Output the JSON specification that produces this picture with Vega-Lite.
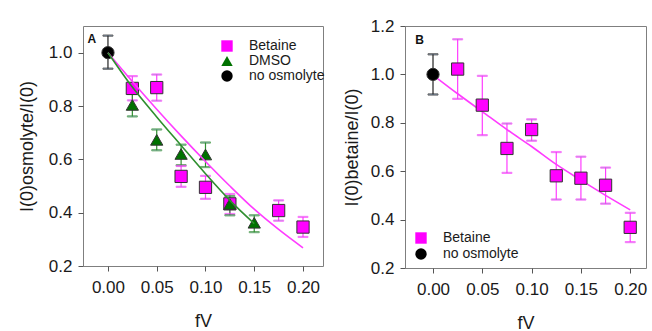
{
  "$schema": "https://vega.github.io/schema/vega-lite/v6.json",
  "background": "white",
  "padding": {"left": 17, "top": 16, "right": 0, "bottom": 0},
  "bounds": "flush",
  "spacing": 82,
  "config": {
    "font": "Liberation Sans",
    "view": {"stroke": "#7f7f7f", "strokeWidth": 1},
    "axis": {
      "domain": false, "grid": false,
      "tickColor": "#555", "tickSize": 5, "labelPadding": 6,
      "labelFont": "Liberation Sans", "labelFontSize": 17, "labelColor": "#1a1a1a",
      "titleFont": "Liberation Sans", "titleFontSize": 18, "titleFontWeight": "normal", "titleColor": "#1a1a1a",
      "labelFlush": false, "labelOverlap": false
    },
    "legend": {
      "labelFont": "Liberation Sans", "labelFontSize": 14, "labelColor": "#1a1a1a",
      "symbolStrokeColor": "#333", "symbolStrokeWidth": 1, "symbolSize": 130,
      "rowPadding": 0, "labelOffset": 15, "padding": 0
    }
  },
  "datasets": {
    "ptsA": [
      {"x": 0.025, "y": 0.866, "lo": 0.821, "hi": 0.912, "s": "Betaine"},
      {"x": 0.05, "y": 0.869, "lo": 0.82, "hi": 0.918, "s": "Betaine"},
      {"x": 0.075, "y": 0.536, "lo": 0.497, "hi": 0.575, "s": "Betaine"},
      {"x": 0.1, "y": 0.495, "lo": 0.452, "hi": 0.538, "s": "Betaine"},
      {"x": 0.125, "y": 0.433, "lo": 0.395, "hi": 0.47, "s": "Betaine"},
      {"x": 0.175, "y": 0.408, "lo": 0.37, "hi": 0.446, "s": "Betaine"},
      {"x": 0.2, "y": 0.346, "lo": 0.309, "hi": 0.384, "s": "Betaine"},
      {"x": 0.025, "y": 0.804, "lo": 0.761, "hi": 0.845, "s": "DMSO"},
      {"x": 0.05, "y": 0.673, "lo": 0.634, "hi": 0.712, "s": "DMSO"},
      {"x": 0.075, "y": 0.62, "lo": 0.578, "hi": 0.655, "s": "DMSO"},
      {"x": 0.1, "y": 0.618, "lo": 0.571, "hi": 0.663, "s": "DMSO"},
      {"x": 0.125, "y": 0.432, "lo": 0.39, "hi": 0.462, "s": "DMSO"},
      {"x": 0.15, "y": 0.362, "lo": 0.327, "hi": 0.39, "s": "DMSO"},
      {"x": 0.0, "y": 1.0, "lo": 0.94, "hi": 1.064, "s": "no osmolyte"}
    ],
    "fitA": [
      {"x": 0.0, "y": 1.0, "s": "Betaine"},
      {"x": 0.025, "y": 0.892, "s": "Betaine"},
      {"x": 0.05, "y": 0.788, "s": "Betaine"},
      {"x": 0.075, "y": 0.688, "s": "Betaine"},
      {"x": 0.1, "y": 0.592, "s": "Betaine"},
      {"x": 0.125, "y": 0.5, "s": "Betaine"},
      {"x": 0.15, "y": 0.413, "s": "Betaine"},
      {"x": 0.175, "y": 0.337, "s": "Betaine"},
      {"x": 0.2, "y": 0.268, "s": "Betaine"},
      {"x": 0.0, "y": 1.0, "s": "DMSO"},
      {"x": 0.025, "y": 0.871, "s": "DMSO"},
      {"x": 0.05, "y": 0.759, "s": "DMSO"},
      {"x": 0.075, "y": 0.652, "s": "DMSO"},
      {"x": 0.1, "y": 0.546, "s": "DMSO"},
      {"x": 0.125, "y": 0.446, "s": "DMSO"},
      {"x": 0.15, "y": 0.359, "s": "DMSO"}
    ],
    "ptsB": [
      {"x": 0.025, "y": 1.022, "lo": 0.899, "hi": 1.145, "s": "Betaine"},
      {"x": 0.05, "y": 0.873, "lo": 0.749, "hi": 0.994, "s": "Betaine"},
      {"x": 0.075, "y": 0.694, "lo": 0.593, "hi": 0.797, "s": "Betaine"},
      {"x": 0.1, "y": 0.772, "lo": 0.726, "hi": 0.814, "s": "Betaine"},
      {"x": 0.125, "y": 0.581, "lo": 0.483, "hi": 0.679, "s": "Betaine"},
      {"x": 0.15, "y": 0.571, "lo": 0.483, "hi": 0.66, "s": "Betaine"},
      {"x": 0.175, "y": 0.542, "lo": 0.466, "hi": 0.615, "s": "Betaine"},
      {"x": 0.2, "y": 0.368, "lo": 0.307, "hi": 0.428, "s": "Betaine"},
      {"x": 0.0, "y": 1.0, "lo": 0.917, "hi": 1.083, "s": "no osmolyte"}
    ],
    "fitB": [
      {"x": 0.003, "y": 0.988, "s": "Betaine"},
      {"x": 0.025, "y": 0.92, "s": "Betaine"},
      {"x": 0.05, "y": 0.846, "s": "Betaine"},
      {"x": 0.075, "y": 0.772, "s": "Betaine"},
      {"x": 0.1, "y": 0.702, "s": "Betaine"},
      {"x": 0.125, "y": 0.628, "s": "Betaine"},
      {"x": 0.15, "y": 0.563, "s": "Betaine"},
      {"x": 0.175, "y": 0.5, "s": "Betaine"},
      {"x": 0.2, "y": 0.44, "s": "Betaine"}
    ],
    "labA": [{"x": -0.021, "y": 1.038, "t": "A"}],
    "labB": [{"x": -0.018, "y": 1.124, "t": "B"}]
  },
  "resolve": {
    "scale": {"x": "independent", "y": "independent", "fill": "independent", "shape": "independent", "stroke": "independent"},
    "legend": {"fill": "independent", "shape": "independent"}
  },
  "hconcat": [
    {
      "width": 240, "height": 240,
      "encoding": {
        "x": {"field": "x", "type": "quantitative",
          "scale": {"domain": [-0.0256, 0.2205], "nice": false, "zero": false},
          "axis": {"values": [0, 0.05, 0.1, 0.15, 0.2], "format": ".2f", "title": "fV", "titlePadding": 17, "labelPadding": 8}},
        "y": {"field": "y", "type": "quantitative",
          "scale": {"domain": [0.2, 1.1], "nice": false, "zero": false},
          "axis": {"values": [0.2, 0.4, 0.6, 0.8, 1.0], "format": ".1f", "title": "I(0)osmolyte/I(0)", "titlePadding": 12}}
      },
      "layer": [
        {"data": {"name": "ptsA"}, "mark": {"type": "rule", "strokeWidth": 1.2},
          "encoding": {"y": {"field": "lo", "type": "quantitative"}, "y2": {"field": "hi"},
            "stroke": {"field": "s", "type": "nominal", "scale": {"domain": ["no osmolyte", "DMSO", "Betaine"], "range": ["#222222", "#2f8f2f", "#ff3cff"]}, "legend": null}}},
        {"data": {"name": "ptsA"}, "mark": {"type": "tick", "orient": "horizontal", "size": 10, "thickness": 1.2},
          "encoding": {"y": {"field": "lo", "type": "quantitative"},
            "stroke": {"field": "s", "type": "nominal", "legend": null}}},
        {"data": {"name": "ptsA"}, "mark": {"type": "tick", "orient": "horizontal", "size": 10, "thickness": 1.2},
          "encoding": {"y": {"field": "hi", "type": "quantitative"},
            "stroke": {"field": "s", "type": "nominal", "legend": null}}},
        {"data": {"name": "ptsA"}, "mark": {"type": "point", "filled": true, "opacity": 1, "stroke": "#333", "strokeWidth": 1, "size": 150},
          "encoding": {
            "fill": {"field": "s", "type": "nominal", "scale": {"domain": ["Betaine", "DMSO", "no osmolyte"], "range": ["#ff00ff", "#007200", "#000000"]},
              "legend": {"title": null, "orient": "none", "legendX": 137, "legendY": 13}},
            "shape": {"field": "s", "type": "nominal", "scale": {"domain": ["Betaine", "DMSO", "no osmolyte"], "range": ["square", "triangle-up", "circle"]},
              "legend": {"title": null, "orient": "none", "legendX": 137, "legendY": 13}}
          }},
        {"data": {"name": "fitA"}, "mark": {"type": "line", "strokeWidth": 1.6, "interpolate": "monotone"},
          "encoding": {"stroke": {"field": "s", "type": "nominal", "legend": null}, "detail": {"field": "s"}}},
        {"data": {"name": "labA"}, "mark": {"type": "text", "align": "left", "baseline": "alphabetic", "fontWeight": "bold", "fontSize": 12, "font": "Liberation Sans", "color": "#111"},
          "encoding": {"text": {"field": "t"}}}
      ]
    },
    {
      "width": 241, "height": 242,
      "encoding": {
        "x": {"field": "x", "type": "quantitative",
          "scale": {"domain": [-0.0284, 0.216], "nice": false, "zero": false},
          "axis": {"values": [0, 0.05, 0.1, 0.15, 0.2], "format": ".2f", "title": "fV", "titlePadding": 17, "labelPadding": 8}},
        "y": {"field": "y", "type": "quantitative",
          "scale": {"domain": [0.2, 1.2], "nice": false, "zero": false},
          "axis": {"values": [0.2, 0.4, 0.6, 0.8, 1.0, 1.2], "format": ".1f", "title": "I(0)betaine/I(0)", "titlePadding": 9}}
      },
      "layer": [
        {"data": {"name": "ptsB"}, "mark": {"type": "rule", "strokeWidth": 1.2},
          "encoding": {"y": {"field": "lo", "type": "quantitative"}, "y2": {"field": "hi"},
            "stroke": {"field": "s", "type": "nominal", "scale": {"domain": ["no osmolyte", "Betaine"], "range": ["#222222", "#ff3cff"]}, "legend": null}}},
        {"data": {"name": "ptsB"}, "mark": {"type": "tick", "orient": "horizontal", "size": 10, "thickness": 1.2},
          "encoding": {"y": {"field": "lo", "type": "quantitative"},
            "stroke": {"field": "s", "type": "nominal", "legend": null}}},
        {"data": {"name": "ptsB"}, "mark": {"type": "tick", "orient": "horizontal", "size": 10, "thickness": 1.2},
          "encoding": {"y": {"field": "hi", "type": "quantitative"},
            "stroke": {"field": "s", "type": "nominal", "legend": null}}},
        {"data": {"name": "fitB"}, "mark": {"type": "line", "strokeWidth": 1.6, "interpolate": "monotone"},
          "encoding": {"stroke": {"field": "s", "type": "nominal", "legend": null}}},
        {"data": {"name": "ptsB"}, "mark": {"type": "point", "filled": true, "opacity": 1, "stroke": "#333", "strokeWidth": 1, "size": 150},
          "encoding": {
            "fill": {"field": "s", "type": "nominal", "scale": {"domain": ["Betaine", "no osmolyte"], "range": ["#ff00ff", "#000000"]},
              "legend": {"title": null, "orient": "none", "legendX": 9, "legendY": 205}},
            "shape": {"field": "s", "type": "nominal", "scale": {"domain": ["Betaine", "no osmolyte"], "range": ["square", "circle"]},
              "legend": {"title": null, "orient": "none", "legendX": 9, "legendY": 205}}
          }},
        {"data": {"name": "labB"}, "mark": {"type": "text", "align": "left", "baseline": "alphabetic", "fontWeight": "bold", "fontSize": 12, "font": "Liberation Sans", "color": "#111"},
          "encoding": {"text": {"field": "t"}}}
      ]
    }
  ]
}
